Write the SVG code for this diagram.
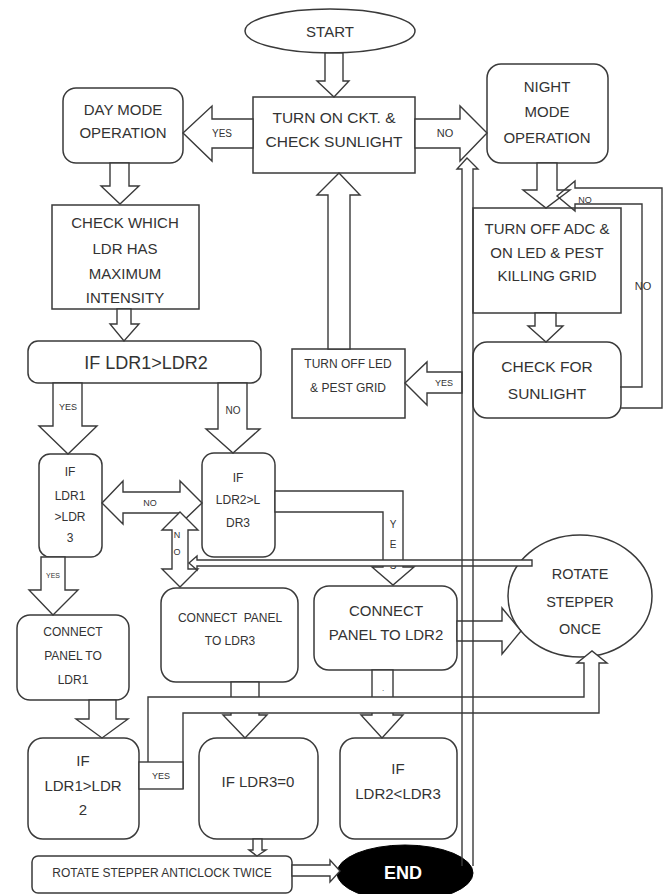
<svg xmlns="http://www.w3.org/2000/svg" width="671" height="894" viewBox="0 0 671 894">
<style>
.n{fill:#fff;stroke:#3a3a3a;stroke-width:1.5}
.c{fill:#fff;stroke:#3a3a3a;stroke-width:1.4;stroke-linejoin:miter}
.o{fill:none;stroke:#3a3a3a;stroke-width:1.4;stroke-linejoin:miter}
text{font-family:"Liberation Sans",Arial,sans-serif;fill:#333;text-anchor:middle}
.f7{font-size:7px}.f9{font-size:9px}.f10{font-size:10px}.f11{font-size:11px}.f12{font-size:12px}
.f14{font-size:14.5px}.f15{font-size:15px}.f155{font-size:15.5px}.f18{font-size:18px}
</style>
<rect width="671" height="894" fill="#fff"/>
<g id="start"><ellipse class="n" cx="330" cy="31" rx="85" ry="22"/><text class="f15" x="330" y="37">START</text></g>
<g id="turn-on"><rect class="n" x="253" y="97" width="162" height="76"/><text class="f155" x="334" y="123">TURN ON CKT. &amp;</text><text class="f155" x="334" y="147">CHECK SUNLIGHT</text></g>
<g id="day-mode"><rect class="n" x="63" y="88" width="120" height="75" rx="13"/><text class="f15" x="123" y="115">DAY MODE</text><text class="f15" x="123" y="138">OPERATION</text></g>
<g id="night-mode"><rect class="n" x="487" y="64" width="121" height="99" rx="14"/><text class="f15" x="547" y="92">NIGHT</text><text class="f15" x="547" y="117">MODE</text><text class="f15" x="547" y="143">OPERATION</text></g>
<g id="check-ldr"><rect class="n" x="52" y="205" width="147" height="104"/><text class="f15" x="125" y="228">CHECK WHICH</text><text class="f15" x="125" y="254">LDR HAS</text><text class="f15" x="125" y="279">MAXIMUM</text><text class="f15" x="125" y="303">INTENSITY</text></g>
<g id="if-ldr1-ldr2"><rect class="n" x="28" y="341" width="233" height="42" rx="10"/><text class="f18" x="146" y="369">IF LDR1&gt;LDR2</text></g>
<g id="if-ldr1-ldr3"><rect class="n" x="39" y="454" width="63" height="103" rx="11"/><text class="f12" x="70" y="476">IF</text><text class="f12" x="70" y="500">LDR1</text><text class="f12" x="70" y="521">&gt;LDR</text><text class="f12" x="70" y="542">3</text></g>
<g id="if-ldr2-ldr3"><rect class="n" x="202" y="453" width="73" height="104" rx="12"/><text class="f12" x="238" y="482">IF</text><text class="f12" x="238" y="504">LDR2&gt;L</text><text class="f12" x="238" y="527">DR3</text></g>
<g id="turn-off-adc"><rect class="n" x="473" y="208" width="148" height="105"/><text class="f15" x="547" y="234">TURN OFF ADC &amp;</text><text class="f15" x="547" y="258">ON LED &amp; PEST</text><text class="f15" x="547" y="281">KILLING GRID</text></g>
<g id="check-sunlight"><rect class="n" x="473" y="342" width="148" height="76" rx="14"/><text class="f155" x="547" y="372">CHECK FOR</text><text class="f155" x="547" y="399">SUNLIGHT</text></g>
<g id="turn-off-led"><rect class="n" x="292" y="349" width="113" height="69"/><text class="f12" x="348" y="368">TURN OFF LED</text><text class="f12" x="348" y="392">&amp; PEST GRID</text></g>
<g id="connect-ldr1"><rect class="n" x="17" y="615" width="112" height="85" rx="13"/><text class="f12" x="73" y="636">CONNECT</text><text class="f12" x="73" y="660">PANEL TO</text><text class="f12" x="73" y="684">LDR1</text></g>
<g id="connect-ldr3"><rect class="n" x="161" y="588" width="137" height="94" rx="15"/><text class="f12" x="230" y="622" xml:space="preserve">CONNECT  PANEL</text><text class="f12" x="230" y="645">TO LDR3</text></g>
<g id="connect-ldr2"><rect class="n" x="314" y="586" width="143" height="84" rx="15"/><text class="f15" x="386" y="616">CONNECT</text><text class="f15" x="386" y="640">PANEL TO LDR2</text></g>
<g id="rotate-once"><ellipse class="n" cx="580" cy="596" rx="72" ry="61"/><text class="f14" x="580" y="579">ROTATE</text><text class="f14" x="580" y="607">STEPPER</text><text class="f14" x="580" y="634">ONCE</text></g>
<g id="if-ldr1-ldr2-b"><rect class="n" x="28" y="738" width="111" height="101" rx="15"/><text class="f15" x="83" y="766">IF</text><text class="f15" x="83" y="791">LDR1&gt;LDR</text><text class="f15" x="83" y="815">2</text></g>
<g id="if-ldr3-0"><rect class="n" x="199" y="738" width="119" height="101" rx="18"/><text class="f15" x="258" y="787">IF LDR3=0</text></g>
<g id="if-ldr2-ldr3-b"><rect class="n" x="340" y="738" width="117" height="101" rx="15"/><text class="f15" x="398" y="774">IF</text><text class="f15" x="398" y="799">LDR2&lt;LDR3</text></g>
<g id="rotate-twice"><rect class="n" x="32" y="856" width="260" height="37" rx="6"/><text class="f12" x="162" y="877">ROTATE STEPPER ANTICLOCK TWICE</text></g>
<g id="end"><ellipse cx="405" cy="873" rx="68" ry="28" fill="#000" stroke="#000"/><text x="403" y="879" style="font-size:18px;font-weight:bold;fill:#fff">END</text></g>
<g id="connectors">
<polygon class="c" points="325,53 343,53 343,81 349,81 334,97 317,81 325,81"/>
<polygon class="c" points="253,119 212,119 212,106 183,133 212,161 212,148 253,148"/>
<polygon class="c" points="415,119 460,119 460,106 487,133 460,161 460,148 415,148"/>
<polygon class="c" points="110,163 129,163 129,186 139,186 120,204 101,186 110,186"/>
<polygon class="c" points="117,309 131,309 131,324 139,324 124,341 110,324 117,324"/>
<polygon class="c" points="53,383 82,383 82,426 97,426 68,454 39,426 53,426"/>
<polygon class="c" points="218,383 247,383 247,429 260,429 233,453 206,429 218,429"/>
<polygon class="c" points="102,503 123,481 123,492 180,492 180,481 202,503 180,524 180,513 123,513 123,524"/>
<polygon class="c" points="180,512 198,530 188,530 188,569 198,569 180,587 162,569 172,569 172,530 162,530"/>
<polygon class="c" points="41,557 65,557 65,590 78,590 53,615 29,590 41,590"/>
<polygon class="c" points="275,491 403,491 403,567 414,567 393,585 372,567 383,567 383,512 275,512"/>
<text class="f10" x="393" y="528">Y</text><text class="f10" x="393" y="548">E</text><text class="f10" x="393" y="569">S</text>
<polygon class="c" points="189,563 197,556 197,560 532,560 532,566 197,566 197,570"/>
<polygon class="c" points="457,621 502,621 502,608 521,631 502,654 502,641 457,641"/>
<polygon class="c" points="537,163 557,163 557,190 570,190 546,208 523,190 537,190"/>
<path class="o" d="M620,408 H662 V188 H575 V181 L557,196 L575,211 V204 H642 V387 H620"/>
<polygon class="c" points="535,313 556,313 556,326 563,326 546,342 528,326 535,326"/>
<polygon class="c" points="462,372 427,372 427,362 405,383 427,405 427,393 462,393"/>
<polygon class="c" points="328,349 328,195 317,195 339,173 360,195 350,195 350,349"/>
<polygon class="c" points="89,700 116,700 116,719 128,719 102,738 76,719 89,719"/>
<polygon class="c" points="231,682 259,682 259,715 267,715 245,738 223,715 231,715"/>
<polygon class="c" points="372,670 393,670 393,715 403,715 382,738 361,715 372,715"/>
<text x="383" y="691" style="font-size:8px">.</text>
<path class="c" d="M148,762 V697 H584 V663 H577 L592,651 L607,663 H599 V713 H183 V789"/>
<rect class="c" x="139" y="762" width="44" height="27"/>
<polygon class="c" points="253,839 262,839 262,850 266,850 257,856 249,850 253,850"/>
<polygon class="c" points="292,865 330,865 330,860 340,871 330,882 330,876 292,876"/>
<path class="o" d="M462,866 V169 H457 L467,158 L478,169 H473 V866"/>
<text class="f10" x="222" y="137">YES</text>
<text class="f11" x="445" y="137">NO</text>
<text class="f9" x="68" y="410">YES</text>
<text class="f10" x="233" y="414">NO</text>
<text class="f9" x="150" y="506">NO</text>
<text class="f9" x="177" y="538">N</text><text class="f9" x="177" y="555">O</text>
<text class="f7" x="53" y="578">YES</text>
<text class="f9" x="444" y="386">YES</text>
<text class="f11" x="643" y="290">NO</text>
<text class="f9" x="585" y="203">NO</text>
<text class="f9" x="161" y="779">YES</text>
</g>
</svg>
